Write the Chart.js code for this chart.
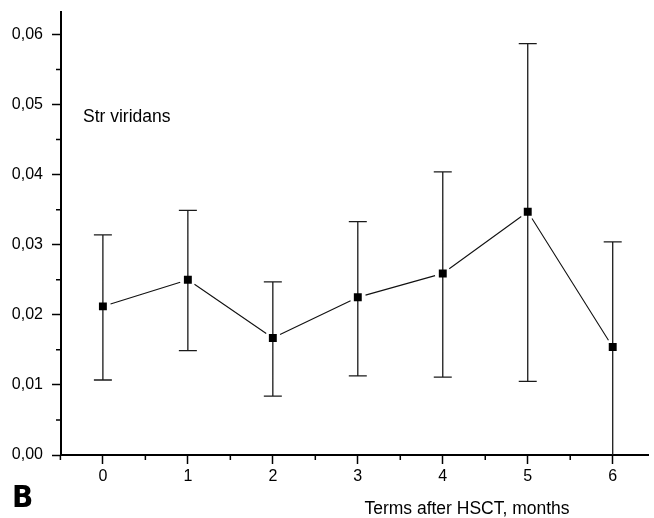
<!DOCTYPE html>
<html>
<head>
<meta charset="utf-8">
<script src="https://cdn.jsdelivr.net/npm/chart.js@4/dist/chart.umd.min.js"></script>
<style>
html,body{margin:0;padding:0;background:#fff;}
#wrap{width:654px;height:518px;position:relative;}
</style>
</head>
<body>
<div id="wrap"><canvas id="c" width="654" height="518"></canvas></div>
<script>
// ---- data ----
const months = [0, 1, 2, 3, 4, 5, 6];
const means  = [0.0212, 0.0250, 0.0167, 0.0225, 0.0259, 0.0347, 0.0154];
const upper  = [0.0314, 0.0349, 0.0247, 0.0333, 0.0404, 0.0587, 0.0304];
const lower  = [0.0107, 0.0149, 0.0084, 0.0113, 0.0111, 0.0105, 0.0000];
const yTicks = [0, 0.01, 0.02, 0.03, 0.04, 0.05, 0.06];
const yMinorTicks = [0.005, 0.015, 0.025, 0.035, 0.045, 0.055];
const xTicks = [0, 1, 2, 3, 4, 5, 6];
const xMinorTicks = [-0.5, 0.5, 1.5, 2.5, 3.5, 4.5, 5.5];
const seriesLabel = 'Str viridans';
const xTitle = 'Terms after HSCT, months';
const panelLabel = 'B';

const FONT = '"Liberation Sans", Arial, sans-serif';

const decoPlugin = {
  id: 'deco',
  beforeDatasetsDraw(chart) {
    const ctx = chart.ctx, xs = chart.scales.x, ys = chart.scales.y;
    ctx.save();
    // minor ticks
    ctx.strokeStyle = '#000';
    ctx.lineWidth = 1.5;
    ctx.beginPath();
    xMinorTicks.forEach(v => {
      const px = xs.getPixelForValue(v);
      ctx.moveTo(px, ys.bottom); ctx.lineTo(px, ys.bottom + 5);
    });
    yMinorTicks.forEach(v => {
      const py = ys.getPixelForValue(v);
      ctx.moveTo(xs.left, py); ctx.lineTo(xs.left - 5, py);
    });
    ctx.stroke();
    // error bars
    ctx.strokeStyle = '#1a1a1a';
    ctx.lineWidth = 1.3;
    ctx.beginPath();
    months.forEach((m, i) => {
      const px = xs.getPixelForValue(m);
      const pu = ys.getPixelForValue(upper[i]);
      const pl = ys.getPixelForValue(lower[i]);
      ctx.moveTo(px, pu); ctx.lineTo(px, pl);
      ctx.moveTo(px - 9, pu); ctx.lineTo(px + 9, pu);
      if (lower[i] > 0) { ctx.moveTo(px - 9, pl); ctx.lineTo(px + 9, pl); }
    });
    ctx.stroke();
    // connecting line with small gaps at markers
    ctx.strokeStyle = '#111';
    ctx.lineWidth = 1.1;
    ctx.beginPath();
    for (let i = 0; i < months.length - 1; i++) {
      const x1 = xs.getPixelForValue(months[i]), y1 = ys.getPixelForValue(means[i]);
      const x2 = xs.getPixelForValue(months[i + 1]), y2 = ys.getPixelForValue(means[i + 1]);
      const d = Math.hypot(x2 - x1, y2 - y1), g = 8;
      const ux = (x2 - x1) / d, uy = (y2 - y1) / d;
      ctx.moveTo(x1 + ux * g, y1 + uy * g);
      ctx.lineTo(x2 - ux * g, y2 - uy * g);
    }
    ctx.stroke();
    ctx.restore();
  },
  afterDraw(chart) {
    const ctx = chart.ctx;
    ctx.save();
    ctx.fillStyle = '#000';
    ctx.textBaseline = 'middle';
    ctx.font = '17.5px ' + FONT;
    ctx.textAlign = 'left';
    ctx.fillText(seriesLabel, 83, 117);
    ctx.textAlign = 'center';
    ctx.fillText(xTitle, 467, 509);
    ctx.font = 'bold 31px "Liberation Sans Narrow", "DejaVu Sans Condensed", "Liberation Sans", sans-serif';
    ctx.textAlign = 'left';
    ctx.textBaseline = 'alphabetic';
    ctx.fillText(panelLabel, 12, 507);
    ctx.restore();
  }
};

new Chart(document.getElementById('c'), {
  type: 'scatter',
  data: {
    datasets: [{
      label: seriesLabel,
      data: months.map((m, i) => ({ x: m, y: means[i] })),
      showLine: false,
      pointStyle: 'rect',
      pointRadius: 5.6,
      pointHoverRadius: 5.6,
      backgroundColor: '#000',
      borderColor: '#000',
      pointBorderWidth: 0
    }]
  },
  options: {
    responsive: false,
    animation: false,
    events: [],
    layout: { padding: { top: 12, right: 0, left: 0, bottom: 0 } },
    plugins: { legend: { display: false }, tooltip: { enabled: false } },
    scales: {
      x: {
        type: 'linear',
        min: -0.493,
        max: 6.42,
        afterBuildTicks: s => { s.ticks = xTicks.map(v => ({ value: v })); },
        afterFit: s => { s.height = 63; s.paddingLeft = 0; s.paddingRight = 0; },
        border: { display: true, color: '#000', width: 2 },
        grid: { display: true, drawOnChartArea: false, drawTicks: true, tickLength: 9, tickColor: '#000', tickWidth: 1.5 },
        ticks: {
          color: '#000', padding: 3, maxRotation: 0, autoSkip: false,
          font: { family: FONT, size: 16 },
          callback: v => String(v)
        }
      },
      y: {
        type: 'linear',
        min: 0,
        max: 0.0632,
        afterBuildTicks: s => { s.ticks = yTicks.map(v => ({ value: v })); },
        afterFit: s => { s.width = 61; s.paddingTop = 0; s.paddingBottom = 0; },
        border: { display: true, color: '#000', width: 2 },
        grid: { display: true, drawOnChartArea: false, drawTicks: true, tickLength: 9, tickColor: '#000', tickWidth: 1.5 },
        ticks: {
          color: '#000', padding: 9, autoSkip: false,
          font: { family: FONT, size: 16 },
          callback: v => Number(v).toFixed(2).replace('.', ',')
        }
      }
    }
  },
  plugins: [decoPlugin]
});
</script>
</body>
</html>
